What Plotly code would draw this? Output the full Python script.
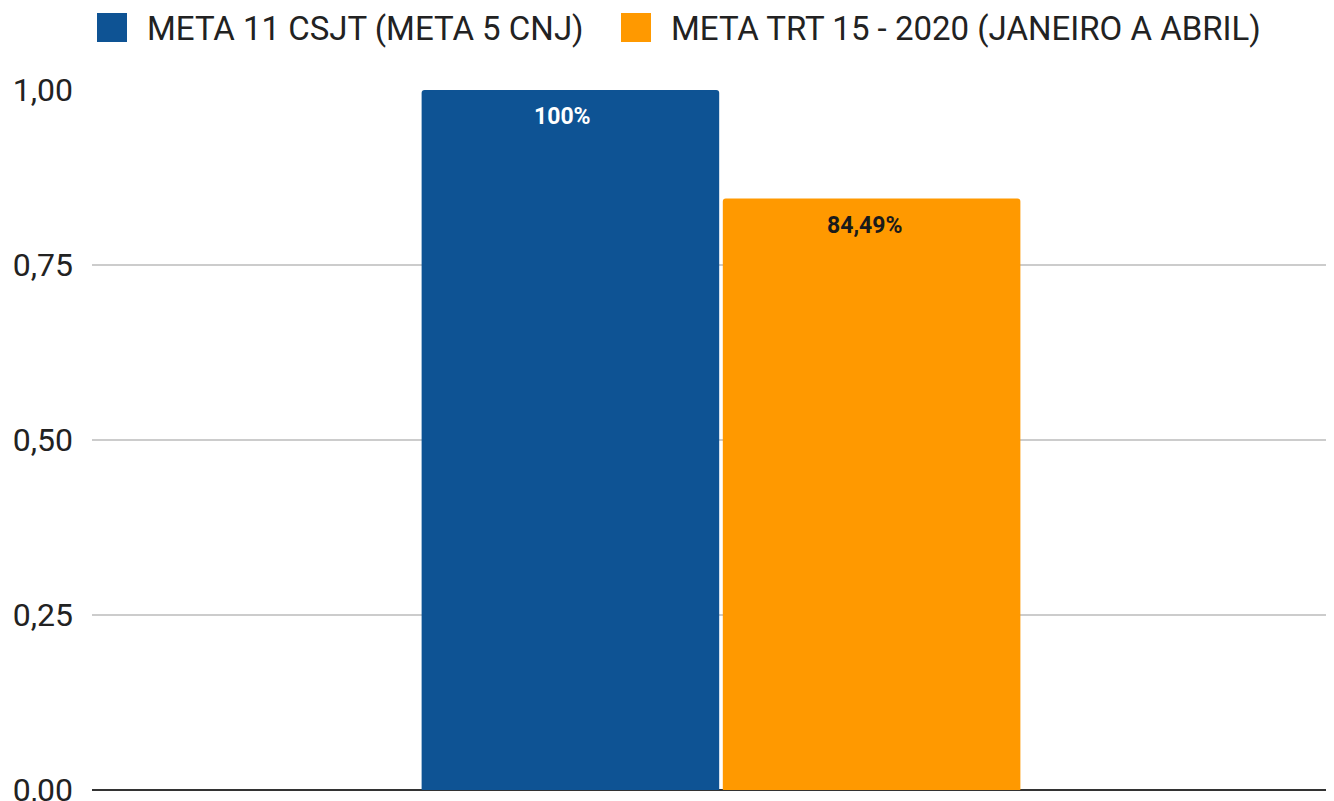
import plotly.graph_objects as go

categories = [""]
series_names = ["META 11 CSJT (META 5 CNJ)", "META TRT 15 - 2020 (JANEIRO A ABRIL)"]
meta_csjt = [1.0]
meta_trt = [0.8449]
labels_csjt = ["100%"]
labels_trt = ["84,49%"]
tick_vals = [0, 0.25, 0.5, 0.75, 1.0]
tick_text = ["0,00", "0,25", "0,50", "0,75", "1,00"]

colors = ["#0E5394", "#FF9900"]
label_colors = ["#FFFFFF", "#1A1A1A"]

fig = go.Figure()
fig.add_trace(go.Bar(x=categories, y=meta_csjt, name=series_names[0],
                     marker=dict(color=colors[0], cornerradius=3, line=dict(width=0)),
                     showlegend=False, hoverinfo="skip"))
fig.add_trace(go.Bar(x=categories, y=meta_trt, name=series_names[1],
                     marker=dict(color=colors[1], cornerradius=3, line=dict(width=0)),
                     showlegend=False, hoverinfo="skip"))

# data labels
for vals, labs, shift, col in [(meta_csjt, labels_csjt, -151, label_colors[0]),
                               (meta_trt, labels_trt, 151, label_colors[1])]:
    for c, v, t in zip(categories, vals, labs):
        fig.add_annotation(x=c, y=v, text="<b>" + t + "</b>", showarrow=False,
                           xshift=shift, yshift=-11, yanchor="top",
                           font=dict(family="Roboto", size=23, color=col))

# manual legend (plot area spans x 92..1334, y 90..790 in page pixels)
W, H = 1242.0, 700.0
def px(x):
    return (x - 92) / W
def py(y):
    return (790 - y) / H

legend_items = [(97, 145), (621, 669)]
for (sx, tx), name, col in zip(legend_items, series_names, colors):
    fig.add_shape(type="rect", xref="paper", yref="paper",
                  x0=px(sx), x1=px(sx + 30), y0=py(42), y1=py(13),
                  fillcolor=col, line=dict(width=0))
    fig.add_annotation(xref="paper", yref="paper", x=px(tx), y=py(28),
                       text=name, showarrow=False, xanchor="left", yanchor="middle",
                       font=dict(family="Roboto", size=33, color="#222222"))

d = -8 / W
# page body has an 8px margin, so the figure is sized/positioned to compensate
fig.update_layout(
    width=1326, height=793,
    margin=dict(l=84, r=0, t=82, b=11, autoexpand=False),
    paper_bgcolor="white", plot_bgcolor="white",
    barmode="group", bargap=0.515, bargroupgap=0.012,
    showlegend=False,
    font=dict(family="Roboto", size=32, color="#222222"),
    xaxis=dict(showticklabels=False, showgrid=False, zeroline=False,
               range=[-0.5 + d, 0.5 + d], fixedrange=True, automargin=False),
    yaxis=dict(range=[0, 1], tickvals=tick_vals, ticktext=tick_text,
               showgrid=True, gridcolor="#CCCCCC", gridwidth=1.5,
               zeroline=True, zerolinecolor="#333333", zerolinewidth=2,
               ticks="", ticklabelstandoff=18, ticklabeloverflow="allow",
               automargin=False,
               tickfont=dict(family="Roboto", size=32, color="#222222")),
)

fig.write_html("out.html")
